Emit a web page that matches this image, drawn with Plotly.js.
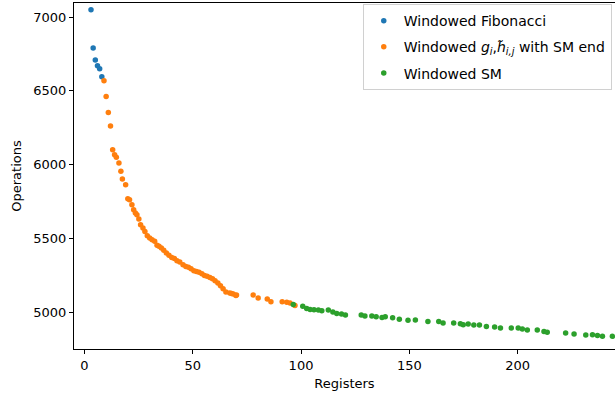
<!DOCTYPE html>
<html>
<head>
<meta charset="utf-8">
<script src="https://cdn.plot.ly/plotly-3.0.1.min.js"></script>
<style>html,body{margin:0;padding:0;background:#fff;}#chart{width:615px;height:395px;}</style>
</head>
<body>
<div id="chart"></div>
<script>
const fibX = [3, 4, 5, 6, 7, 8];
const fibY = [7049, 6790, 6709, 6670, 6650, 6596];

const ghX = [9, 10, 11, 12, 13, 13.9, 14.7, 15.9, 16.8, 17.5, 19, 20, 20.8, 21.9, 22.7, 23.5, 24.2, 25.1, 25.9, 27, 27.9, 29, 30.1, 31.2, 32.4, 33.5, 34.4, 35.5, 36.6, 37.8, 39, 40.3, 41.5, 42.7, 44, 45.5, 46.8, 48, 49.2, 50.5, 51.7, 52.9, 54.2, 55.4, 56.6, 57.9, 59.1, 60.3, 61.6, 62.8, 64, 65.3, 67.1, 67.9, 68.7, 69.9, 70.2, 77.9, 80.2, 84.4, 86.1, 91.3, 93.4, 94.9, 97.2];
const ghY = [6569, 6462, 6354, 6262, 6101, 6068, 6050, 6012, 5955, 5903, 5865, 5770, 5763, 5729, 5695, 5673, 5661, 5632, 5594, 5571, 5548, 5519, 5504, 5492, 5481, 5454, 5447, 5436, 5420, 5402, 5386, 5372, 5364, 5350, 5341, 5323, 5311, 5305, 5296, 5282, 5276, 5271, 5262, 5250, 5244, 5237, 5228, 5215, 5199, 5181, 5160, 5138, 5131, 5127, 5125, 5115, 5118, 5118, 5097, 5091, 5072, 5072, 5068, 5064, 5047];

const smX = [96.4, 100.8, 102.6, 104.2, 106, 108, 109.6, 112.6, 114.7, 116.5, 118.7, 120.5, 127.8, 129.5, 132.7, 134.7, 137.4, 138.9, 142.3, 145.4, 149.4, 152.8, 158.6, 163.6, 165.6, 170.5, 173.6, 174.9, 177.2, 179.8, 182.4, 185.6, 189.4, 192.1, 197.1, 200.3, 202.2, 204.5, 209.1, 212.2, 213.7, 222.2, 226.1, 231.5, 234.6, 236.9, 239.2, 243.8];
const smY = [5054, 5041, 5027, 5020, 5018, 5016, 5011, 5016, 5003, 4993, 4989, 4982, 4982, 4976, 4976, 4971, 4966, 4971, 4964, 4953, 4946, 4949, 4939, 4939, 4928, 4928, 4923, 4917, 4921, 4915, 4915, 4905, 4901, 4894, 4894, 4894, 4888, 4881, 4881, 4871, 4865, 4861, 4854, 4847, 4849, 4844, 4838, 4838];

const xTicks = [0, 50, 100, 150, 200];
const yTicks = [5000, 5500, 6000, 6500, 7000];

const names = ['Windowed Fibonacci', 'Windowed <i>g</i><sub><i>i</i></sub>,<i>h\u0303</i><sub><i>i,j</i></sub> with SM end', 'Windowed SM'];
const colors = ['#1f77b4', '#ff7f0e', '#2ca02c'];

function tr(x, y, i) {
  return {x: x, y: y, type: 'scatter', mode: 'markers', name: names[i],
    legendgroup: 'g' + i,
    marker: {color: colors[i], size: 5.5, line: {width: 0}}};
}

const data = [tr(fibX, fibY, 0), tr(ghX, ghY, 1), tr(smX, smY, 2)];

const font = {family: 'DejaVu Sans', size: 13, color: '#000'};
const layout = {
  width: 615, height: 395,
  margin: {l: 74, r: 0, t: 3, b: 46},
  paper_bgcolor: '#fff', plot_bgcolor: '#fff',
  font: font,
  showlegend: true,
  legend: {x: 0.994, xanchor: 'right', y: 0.997, yanchor: 'top',
    traceorder: 'grouped', tracegroupgap: 5,
    bgcolor: 'rgba(255,255,255,0.8)', bordercolor: '#d0d0d0', borderwidth: 1,
    font: {family: 'DejaVu Sans', size: 14, color: '#000'}},
  xaxis: {range: [-4.85, 245], tickvals: xTicks, ticktext: xTicks.map(String),
    showgrid: false, zeroline: false, showline: true, linecolor: '#000', linewidth: 1,
    mirror: true, ticks: 'outside', ticklen: 4, tickcolor: '#000',
    title: {text: 'Registers', font: font, standoff: 7}, tickfont: font},
  yaxis: {range: [4752, 7095], tickvals: yTicks, ticktext: yTicks.map(String),
    showgrid: false, zeroline: false, showline: true, linecolor: '#000', linewidth: 1,
    ticks: 'outside', ticklen: 4, tickcolor: '#000',
    title: {text: 'Operations', font: font, standoff: 8}, tickfont: font}
};

Plotly.newPlot('chart', data, layout, {displayModeBar: false, staticPlot: true});
</script>
</body>
</html>
